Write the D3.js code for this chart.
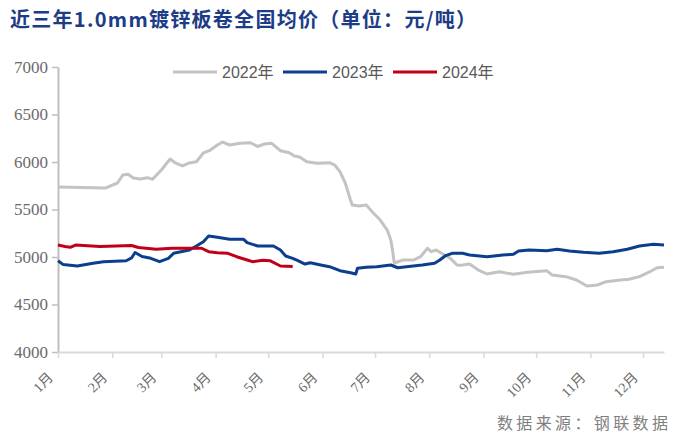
<!DOCTYPE html>
<html>
<head>
<meta charset="utf-8">
<script src="https://cdn.jsdelivr.net/npm/d3@7"></script>
<style>
  body { margin: 0; background: #fff; }
  svg { display: block; }
</style>
</head>
<body>
<svg id="chart" width="674" height="443"></svg>
<script>
// 轴刻度
const yTicks = [4000, 4500, 5000, 5500, 6000, 6500, 7000];
const monthLabels = ["1月", "2月", "3月", "4月", "5月", "6月", "7月", "8月", "9月", "10月", "11月", "12月"];
const monthStartDays = [0, 31, 59, 90, 120, 151, 181, 212, 243, 273, 304, 334];
const lastDay = 346;

// 2022年 (日序, 元/吨)
const days2022 = [0, 13, 27, 34, 37, 40, 43, 47, 51, 54, 59, 64, 67, 71, 75, 79, 83, 87, 91, 94, 98, 104, 110, 114, 118, 122, 127, 132, 135, 138, 142, 148, 155, 158, 161, 164, 167, 168, 172, 176, 180, 184, 188, 190, 191, 192, 197, 203, 207, 211, 213, 216, 219, 224, 228, 231, 235, 240, 245, 252, 260, 268, 279, 282, 290, 296, 302, 308, 313, 321, 326, 332, 338, 342, 346];
const price2022 = [5737, 5732, 5726, 5779, 5863, 5871, 5832, 5821, 5835, 5818, 5916, 6032, 5990, 5958, 5990, 6003, 6095, 6126, 6179, 6210, 6179, 6197, 6203, 6163, 6190, 6197, 6119, 6098, 6063, 6053, 6003, 5986, 5993, 5968, 5898, 5779, 5600, 5547, 5537, 5547, 5463, 5389, 5284, 5179, 5074, 4937, 4968, 4968, 5003, 5092, 5056, 5074, 5039, 4986, 4913, 4916, 4926, 4863, 4821, 4845, 4818, 4839, 4856, 4811, 4793, 4758, 4695, 4705, 4740, 4758, 4765, 4793, 4845, 4887, 4892];

// 2023年
const days2023 = [0, 3, 11, 20, 26, 39, 42, 44, 48, 53, 58, 63, 66, 75, 79, 83, 86, 91, 98, 106, 108, 114, 123, 127, 130, 134, 137, 141, 144, 150, 155, 161, 167, 170, 171, 176, 182, 190, 194, 199, 208, 215, 218, 221, 225, 231, 235, 245, 254, 260, 263, 269, 279, 285, 292, 300, 309, 317, 325, 332, 340, 346];
const price2023 = [4960, 4920, 4905, 4934, 4950, 4961, 4990, 5047, 5005, 4986, 4951, 4986, 5039, 5074, 5116, 5161, 5221, 5207, 5186, 5186, 5151, 5116, 5116, 5074, 5011, 4986, 4961, 4926, 4940, 4916, 4898, 4856, 4835, 4821, 4881, 4892, 4898, 4916, 4887, 4898, 4916, 4934, 4968, 5011, 5039, 5039, 5021, 5003, 5021, 5028, 5063, 5074, 5066, 5081, 5063, 5049, 5039, 5056, 5081, 5116, 5134, 5126];

// 2024年
const days2024 = [0, 4, 7, 10, 24, 42, 46, 56, 65, 78, 82, 86, 91, 97, 102, 108, 111, 117, 121, 127, 134];
const price2024 = [5126, 5111, 5102, 5126, 5111, 5121, 5100, 5081, 5092, 5092, 5092, 5056, 5045, 5039, 5003, 4968, 4951, 4965, 4961, 4905, 4900];

const series = [
  { name: "2022年", days: days2022, values: price2022, color: "#c3c3c3" },
  { name: "2023年", days: days2023, values: price2023, color: "#0b3f8e" },
  { name: "2024年", days: days2024, values: price2024, color: "#c00018" }
];

const svg = d3.select("#chart");

const x = d3.scaleLinear().domain([0, lastDay]).range([58, 664]);
const y = d3.scaleLinear().domain([4000, 7000]).range([352, 67]);

// 标题
svg.append("text")
  .attr("x", 10)
  .attr("y", 27)
  .attr("textLength", 466)
  .attr("lengthAdjust", "spacing")
  .style("font-family", "'Noto Sans CJK SC', sans-serif")
  .style("font-size", "20px")
  .style("font-weight", "bold")
  .style("fill", "#1d3c88")
  .text("近三年1.0mm镀锌板卷全国均价（单位：元/吨）");

// y 轴
const yAxis = svg.append("g")
  .attr("transform", "translate(58,0)")
  .call(d3.axisLeft(y).tickValues(yTicks).tickSize(6).tickSizeOuter(0).tickPadding(4).tickFormat(d3.format("d")));
yAxis.select(".domain").attr("stroke", "#bfbfbf").attr("stroke-width", 2);
yAxis.selectAll(".tick line").attr("stroke", "#bfbfbf").attr("stroke-width", 1.5);
yAxis.selectAll(".tick text")
  .style("font-family", "'Liberation Serif', serif")
  .style("font-size", "17px")
  .style("fill", "#6b6b6b");

// x 轴
const xAxis = svg.append("g")
  .attr("transform", "translate(0,352)")
  .call(d3.axisBottom(x).tickValues(monthStartDays).tickSize(6).tickSizeOuter(0).tickFormat((d, i) => monthLabels[i]));
xAxis.select(".domain").attr("stroke", "#d9d9d9").attr("stroke-width", 2);
xAxis.selectAll(".tick line").attr("stroke", "#d9d9d9").attr("stroke-width", 1.5);
xAxis.selectAll(".tick text")
  .attr("x", null).attr("y", null).attr("dy", "0.35em")
  .attr("transform", "translate(-8,23) rotate(-45)")
  .style("text-anchor", "end")
  .style("font-family", "'Liberation Serif', 'Noto Sans CJK SC', serif")
  .style("font-size", "14px")
  .style("fill", "#6b6b6b");

// 折线
const line = d3.line()
  .x(d => x(d[0]))
  .y(d => y(d[1]));

series.forEach(s => {
  svg.append("path")
    .datum(s.days.map((d, i) => [d, s.values[i]]))
    .attr("fill", "none")
    .attr("stroke", s.color)
    .attr("stroke-width", 3)
    .attr("stroke-linejoin", "round")
    .attr("d", line);
});

// 图例
const legendX = [173, 283, 393];
series.forEach((s, i) => {
  const row = svg.append("g").attr("transform", `translate(${legendX[i]},72)`);
  row.append("line")
    .attr("x1", 0).attr("x2", 44)
    .attr("y1", 0).attr("y2", 0)
    .attr("stroke", s.color)
    .attr("stroke-width", 3);
  row.append("text")
    .attr("x", 49)
    .attr("y", 6)
    .style("font-family", "'Liberation Sans', 'Noto Sans CJK SC', sans-serif")
    .style("font-size", "16px")
    .style("fill", "#595959")
    .text(s.name);
});

// 数据来源
svg.append("text")
  .attr("x", 497)
  .attr("y", 429)
  .attr("textLength", 171)
  .attr("lengthAdjust", "spacing")
  .style("font-family", "'Noto Sans CJK SC', sans-serif")
  .style("font-size", "16px")
  .style("fill", "#7f7f7f")
  .text("数据来源：钢联数据");
</script>
</body>
</html>
